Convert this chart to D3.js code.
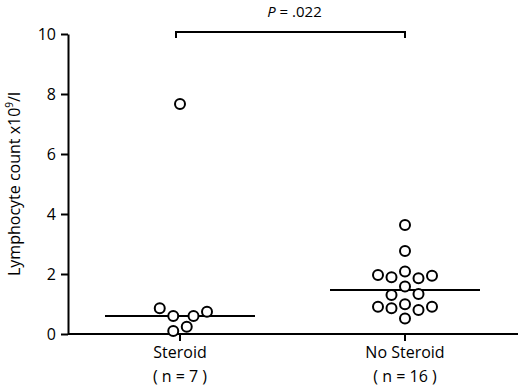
<!DOCTYPE html>
<html lang="en">
<head>
    <meta charset="UTF-8">
    <style>
        body { margin: 0; background: #fff; }
        text { font-family: "Open Sans", "DejaVu Sans", sans-serif; fill: #000; }
        .axis path, .axis line { stroke: #000; stroke-width: 2px; }
        .dot { fill: #fff; stroke: #000; stroke-width: 2px; }
    </style>
    <title>Lymphocyte count</title>
</head>
<body>
<script src="https://d3js.org/d3.v7.min.js" charset="utf-8"></script>
<script>
    // groups
    var groups = ["Steroid", "No Steroid"];
    var groupN = ["( n = 7 )", "( n = 16 )"];

    // values, with swarm slot offsets
    var steroidValues = [7.67, 0.86, 0.6, 0.6, 0.74, 0.24, 0.1];
    var steroidSlots = [0, -1.5, -0.5, 1, 2, 0.5, -0.5];

    var noSteroidValues = [3.63, 2.77, 1.97, 1.89, 2.08, 1.86, 1.94, 1.58,
        1.3, 1.33, 0.91, 0.86, 0.99, 0.8, 0.91, 0.52];
    var noSteroidSlots = [0, 0, -2, -1, 0, 1, 2, 0,
        -1, 1, -2, -1, 0, 1, 2, 0];

    var medians = [0.6, 1.47];
    var yTicks = [0, 2, 4, 6, 8, 10];
    var pLabel = ".022";

    var width = 520, height = 388;
    var margin = {left: 68, top: 34, right: 2, bottom: 54};

    var svg = d3.select('body').append('svg')
        .attr('width', width).attr('height', height);

    var y = d3.scaleLinear().domain([0, 10]).range([height - margin.bottom, margin.top]);
    var x = d3.scalePoint().domain(groups).range([180, 405]);
    var slot = d3.scaleLinear().domain([-1, 1]).range([-13.5, 13.5]);

    // y axis
    var yAxis = svg.append('g').attr('class', 'axis')
        .attr('transform', 'translate(' + margin.left + ',0)')
        .call(d3.axisLeft(y).tickValues(yTicks).tickSize(7).tickSizeOuter(0).tickPadding(5));
    yAxis.selectAll('text').style('font-size', '16px');

    // x axis
    var xAxis = svg.append('g').attr('class', 'axis')
        .attr('transform', 'translate(0,' + y(0) + ')');
    xAxis.append('line')
        .attr('x1', margin.left).attr('x2', width - margin.right)
        .attr('y1', 0).attr('y2', 0);
    xAxis.selectAll('.tk').data(groups).enter().append('line')
        .attr('x1', function (d) { return x(d); })
        .attr('x2', function (d) { return x(d); })
        .attr('y1', 0).attr('y2', 7);
    xAxis.selectAll('.lbl').data(groups).enter().append('text')
        .attr('x', function (d) { return x(d); })
        .attr('y', 24)
        .attr('text-anchor', 'middle')
        .style('font-size', '16px')
        .text(function (d) { return d; });
    xAxis.selectAll('.n').data(groupN).enter().append('text')
        .attr('x', function (d, i) { return x(groups[i]); })
        .attr('y', 48)
        .attr('text-anchor', 'middle')
        .style('font-size', '16px')
        .text(function (d) { return d; });

    // y label
    var yl = svg.append('text')
        .attr('transform', 'translate(20,' + 184 + ') rotate(-90)')
        .attr('text-anchor', 'middle')
        .style('font-size', '16px');
    yl.append('tspan').text('Lymphocyte count x10');
    yl.append('tspan').attr('dy', -7).style('font-size', '10px').text('9');
    yl.append('tspan').attr('dy', 7).text('/l');

    // median lines
    svg.selectAll('.median').data(medians).enter().append('line')
        .attr('x1', function (d, i) { return x(groups[i]) - 75; })
        .attr('x2', function (d, i) { return x(groups[i]) + 75; })
        .attr('y1', function (d) { return y(d); })
        .attr('y2', function (d) { return y(d); })
        .attr('stroke', '#000').attr('stroke-width', 2);

    // dots
    var points = [];
    steroidValues.forEach(function (v, i) { points.push({g: groups[0], v: v, s: steroidSlots[i]}); });
    noSteroidValues.forEach(function (v, i) { points.push({g: groups[1], v: v, s: noSteroidSlots[i]}); });

    svg.selectAll('.dot').data(points).enter().append('circle')
        .attr('class', 'dot')
        .attr('cx', function (d) { return x(d.g) + slot(d.s); })
        .attr('cy', function (d) { return y(d.v); })
        .attr('r', 5);

    // significance bracket
    var by = y(10) - 2;
    svg.append('path')
        .attr('d', 'M' + (x(groups[0]) - 4) + ',' + (by + 6) + 'V' + by + 'H' + x(groups[1]) + 'V' + (by + 6))
        .attr('fill', 'none').attr('stroke', '#000').attr('stroke-width', 2);
    var pt = svg.append('text')
        .attr('x', (x(groups[0]) + x(groups[1])) / 2 + 2)
        .attr('y', 17)
        .attr('text-anchor', 'middle')
        .style('font-size', '15px');
    pt.append('tspan').style('font-style', 'italic').text('P');
    pt.append('tspan').text(' = ' + pLabel);
</script>
</body>
</html>
